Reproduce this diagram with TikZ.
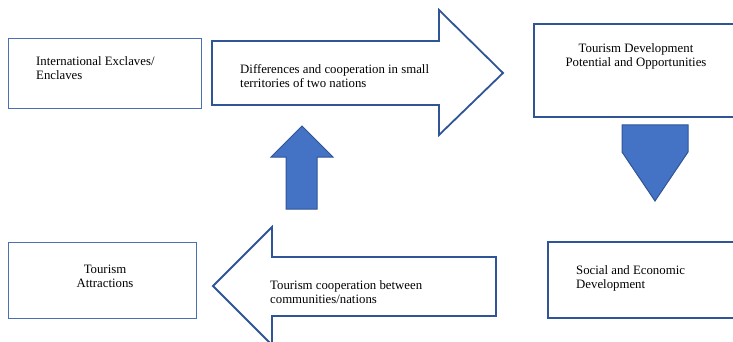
\documentclass[tikz,border=0pt]{standalone}
\usepackage{fontspec}
\setmainfont{Liberation Serif}
\definecolor{lightline}{HTML}{4A6FB5}
\definecolor{darkline}{HTML}{2F5597}
\definecolor{arrowfill}{HTML}{4472C4}
\begin{document}
\begin{tikzpicture}[x=1pt,y=-1pt,
  thinbox/.style={draw=lightline,line width=1pt,fill=white},
  thickbox/.style={draw=darkline,line width=1.8pt,fill=white},
  bigarrow/.style={draw=darkline,line width=1.8pt,fill=white,line join=miter},
  smallarrow/.style={draw=darkline,line width=1pt,fill=arrowfill},
  txt/.style={font=\fontsize{12.8}{14}\selectfont,inner sep=0pt}]
\useasboundingbox (0,0) rectangle (733,342);
\clip (0,0) rectangle (733,342);
% boxes
\node[thinbox,minimum width=193pt,minimum height=70pt,inner sep=0pt] (b1) at (104.5,74) {};
\node[thinbox,minimum width=188pt,minimum height=76pt,inner sep=0pt] (b4) at (102,280) {};
\node[thickbox,minimum width=206pt,minimum height=93pt,inner sep=0pt] (b3) at (637,70.5) {};
\node[thickbox,minimum width=200pt,minimum height=76pt,inner sep=0pt] (b5) at (648,280) {};
% block arrows
\draw[bigarrow] (212,41) -- (439,41) -- (439,10) -- (503,73) -- (439,135) -- (439,105) -- (212,105) -- cycle;
\draw[bigarrow] (496,257) -- (272,257) -- (272,227) -- (213,286) -- (272,345) -- (272,316) -- (496,316) -- cycle;
\draw[smallarrow] (622,125) -- (688,125) -- (688,152) -- (655,201) -- (622,152) -- cycle;
\draw[smallarrow] (286,209) -- (286,157) -- (271,157) -- (302,126) -- (333,157) -- (317,157) -- (317,209) -- cycle;
% texts
\node[txt,align=left,anchor=north west] (t1) at (36,56) {International Exclaves/\\Enclaves};
\node[txt,align=left,anchor=north west] (t2) at (240,64) {Differences and cooperation in small\\territories of two nations};
\node[txt,align=center,anchor=north] (t3) at (636,43) {Tourism Development\\Potential and Opportunities};
\node[txt,align=center,anchor=north] (t4) at (105,265) {Tourism\\Attractions};
\node[txt,align=left,anchor=north west] (t5) at (270,280) {Tourism cooperation between\\communities/nations};
\node[txt,align=left,anchor=north west] (t6) at (576,265) {Social and Economic\\Development};
\end{tikzpicture}
\end{document}
